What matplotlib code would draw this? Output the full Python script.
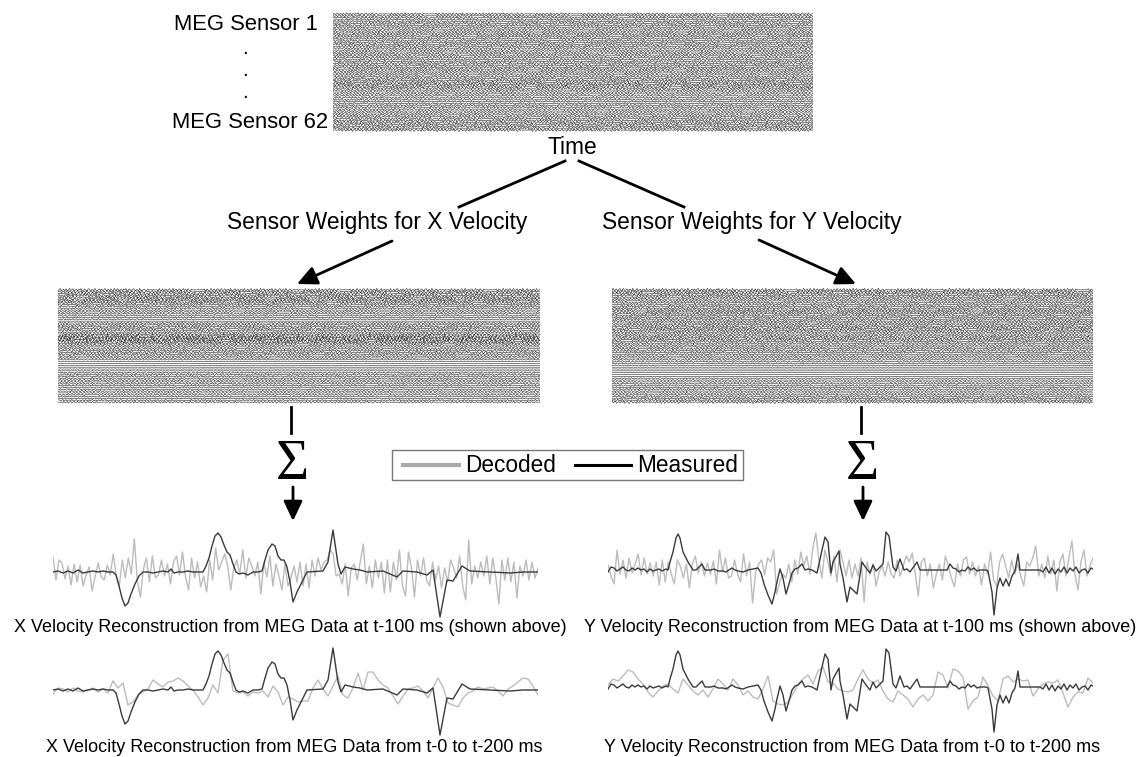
import numpy as np
import matplotlib
matplotlib.use('agg')
import matplotlib.pyplot as plt

plt.rcParams['font.family'] = ['Liberation Sans', 'DejaVu Sans']

W, H = 1145, 757

# measured velocity, (sample, value) pairs
meas_x_t = [0,5,10,15,20,25,30,35,40,45,50,55,60,63,66,69,72,75,78,82,86,90,95,100,105,110,115,118,121,125,130,135,140,145,150,153,156,159,162,165,168,171,174,177,180,183,186,190,195,200,205,209,212,215,219,222,225,228,231,234,237,240,244,250,254,270,275,280,285,288,292,300,307,314,330,344,350,364,374,380,387,394,400,409,417,437,457,470,485]
meas_x_v = [0,1,-1,1,-1,2,-1,0,1,0,1,0,0,-3,-14,-26,-34,-31,-22,-12,-4,0,0,-1,0,1,0,3,-1,0,0,1,0,0,0,6,14,26,36,39,35,27,20,17,8,0,-2,-1,-3,0,0,1,12,22,28,26,16,12,12,5,-10,-30,-20,-8,0,1,10,42,8,-2,5,3,2,0,1,-5,1,0,-3,2,-45,-8,-9,6,1,0,-1,0,0]
meas_y_t = [0,3,6,9,12,15,18,21,24,27,30,33,36,39,42,45,48,51,54,58,60,62,65,68,70,72,75,80,85,88,94,97,103,106,110,115,118,121,124,127,130,135,140,145,150,153,156,160,164,167,169,172,175,178,181,184,187,190,194,197,200,204,209,214,217,220,223,225,231,232,235,239,242,249,254,258,262,265,268,275,278,281,285,288,292,296,299,302,309,312,339,342,345,348,351,354,357,360,363,366,369,372,378,380,384,386,389,392,395,398,401,404,407,410,412,432,435,438,441,444,447,450,453,456,459,462,465,468,471,474,477,480,483,485]
meas_y_v = [-2,3,2,-1,1,3,0,-1,2,0,2,0,1,-2,1,-1,0,1,-1,1,0,8,18,32,36,32,18,8,0,0,6,0,0,1,-1,-1,-2,0,2,0,-1,-2,0,1,2,-3,-14,-25,-34,-22,-12,1,-8,-24,-14,-3,1,2,6,0,1,0,-3,20,33,28,-3,8,19,6,-8,-32,-17,-24,8,2,-3,5,-1,6,38,34,3,-1,11,0,1,-2,8,0,0,6,2,1,-2,0,-1,3,0,2,-1,0,0,-1,-22,-45,-18,-8,-16,-9,-16,-6,-1,16,0,0,-2,3,-3,2,-4,1,-2,3,-3,2,-1,3,-3,0,1,-3,2,1]

# decoded velocity, evenly spaced samples
dec_x_100 = [15,-8,12,9,-7,6,-13,8,-10,7,-14,-3,5,-19,-4,9,-5,-8,7,-3,
             18,-4,-14,12,-6,14,-2,33,-9,-25,3,14,-10,16,-6,-3,12,-4,8,-12,
             10,16,-3,20,-5,-18,14,-6,10,-15,-4,-20,12,-8,24,2,10,18,6,-18,
             4,12,-2,22,-6,14,6,-4,10,-22,9,-5,16,-14,8,-4,-18,8,-14,-6,
             6,-10,10,-14,8,-16,12,-4,14,2,10,12,22,18,-4,-2,-12,8,-24,4,
             8,-8,10,28,-12,6,-16,12,-6,10,-21,12,-20,10,-8,22,-14,-24,20,4,
             -25,12,-4,14,-8,-14,10,-8,6,-16,4,-10,12,4,-6,16,-14,-28,32,-12,
             6,-6,10,-4,16,-12,14,-6,-32,12,-8,14,-10,10,-26,6,-4,12,-8,10,-6,4]
dec_y_100 = [5,-6,-14,20,-4,10,-8,12,-3,6,16,-5,12,-4,7,-6,8,-15,10,-12,
             8,-4,-14,10,4,-8,6,-18,6,14,-3,8,-6,7,-4,9,-14,20,-2,12,
             -8,-6,10,-4,-12,16,-6,8,-33,-2,6,10,-5,12,8,20,-24,-12,-4,-8,
             6,-12,10,-4,18,4,14,-4,22,37,10,-8,20,8,-6,14,-12,20,8,-6,
             10,-8,6,-6,12,-32,8,-4,6,-16,-2,4,-6,8,-4,-8,10,-6,4,14,
             8,17,-4,-26,8,12,-6,6,-18,-4,6,-10,14,4,-8,-17,6,-6,10,13,
             -4,8,-6,4,-15,6,-4,18,-10,-16,8,16,4,-8,10,-4,6,-6,-16,8,
             4,12,24,-6,6,-8,14,-4,10,-21,8,16,-6,12,29,-4,-20,8,20,-6,4,12]
dec_x_200 = [-4,2,1,-2,2,-1,-2,0,2,-2,1,-3,9,2,7,-15,-12,-5,-2,1,
             10,6,3,8,9,12,9,4,0,-7,-15,-8,5,-3,30,36,-1,-3,-2,-6,
             -2,-3,-1,-7,4,-2,-15,-7,-9,-12,-11,-11,2,10,1,-6,4,14,-5,-8,
             2,17,0,18,18,10,5,2,-6,-14,-6,1,2,4,-1,-8,2,12,3,-13,
             -15,-17,-8,-3,-1,3,1,2,3,-1,-6,1,4,8,12,11,4,-5]
dec_y_200 = [2,8,6,11,17,15,8,3,-5,-10,-4,1,3,-2,-6,8,2,-4,-8,-3,
             -10,-2,8,3,-3,8,2,-8,-4,-10,-12,-2,11,-14,-17,-18,-15,-7,3,8,
             12,3,16,20,5,4,-2,-4,-5,-3,8,17,8,4,7,-4,-12,-15,-4,-8,
             -12,-20,-12,-8,-14,-8,15,12,-1,18,16,10,-22,-14,-10,10,1,-9,-14,8,
             11,5,8,6,7,-9,-2,3,5,4,7,-6,-20,-10,-5,-6,9,4]

# sensor traces
sensor_wiggle = [3,-5,7,-2,-8,6,1,-4,9,-6,2,5,-9,4,-1,-7,8,0,-3,6,-5,2,-8,7,3,-6,1,9,-4,-7,5,0,-2,8,-9,3,6,-1,-5,4,
                 2,-3,1,0,-1,2,-2,1,0,-1,7,-8,4,2,-6,9,-3,-5,8,-1,-7,5,3,-9,6,0,-4,7,-2,-6,9,1,-8,4,-3,5,-7,2,8,-5,
                 0,1,-1,1,0,-2,1,0,-1,1,-6,8,-2,-4,7,3,-9,5,-1,-5,9,-3,-7,6,2,-8,4,1,-6,7,-2,-4,8,-9,3,5,-1,-7,6,0,
                 -3,9,-5,-2,7,-8,4]
sensor_shift = [0,41,87,13,66,102,29,118,54,7,93,36,75,21,110,48,3,84,59,125,17,70,33,99,44,11,121,63,26,91,5,78,39,114,52,19,105,68,1,88,31,123,57,9,96,43,72,15,108,35,81,24,117,61,6,90,47,74,12,101,28,83]
gain_top = [1.0,1.1,0.9,0.8,1.0,1.1,0.9,1.0,0.8,0.9,1.0,1.2,0.9,0.8,1.0,0.9,1.1,1.0,0.9,0.8,
            1.0,0.9,1.1,0.9,0.8,1.0,1.1,0.9,1.0,1.2,0.9,1.0,0.8,0.9,1.1,1.0,1.3,1.2,1.4,1.1,
            0.9,0.8,0.9,0.7,0.8,0.9,0.6,0.8,1.0,0.9,0.7,0.9,0.8,1.0,0.9,1.1,1.0,1.2,1.1,1.0,1.3,1.2]
gain_x = [1.3,1.2,1.4,1.1,1.3,1.5,1.4,1.2,1.0,0.9,0.8,0.7,0.9,0.6,0.8,0.5,0.7,0.05,
          1.0,1.1,0.9,1.2,1.0,0.8,1.0,1.8,2.0,1.9,1.7,1.2,0.9,0.8,1.0,0.9,1.1,1.0,0.8,0.9,
          0.2,0.15,0.2,0.1,0.15,0.2,0.3,0.7,0.9,0.8,0.6,0.9,0.7,0.8,0.6,0.7,0.5,0.8,0.6,0.7,0.5,0.6,0.8,0.9]
gain_y = [1.4,1.3,1.2,1.0,1.2,0.9,1.0,0.8,1.1,0.9,1.0,1.2,1.3,1.1,0.9,1.0,1.1,0.9,1.2,1.0,
          1.1,1.3,1.2,1.0,0.9,1.0,1.4,1.2,1.0,0.9,0.8,1.0,0.9,1.1,0.8,0.7,0.9,0.8,0.6,0.7,
          0.5,0.4,0.3,0.15,0.1,0.05,0.3,0.1,0.5,0.6,0.7,0.6,0.8,0.7,0.9,0.6,0.8,0.7,1.0,0.9,1.1,1.2]


def px_axes(fig, left, top, w, h):
    ax = fig.add_axes([left / W, 1 - (top + h) / H, w / W, h / H])
    ax.axis('off')
    return ax


def plot_sensors(fig, left, top, w, h, gains, extra):
    ax = px_axes(fig, left, top, w, h)
    base = np.resize(np.array(sensor_wiggle) / 10, 420)
    x = np.arange(420)
    for i, g in enumerate(gains):
        y = np.roll(base, sensor_shift[i] + extra) * g * 0.7
        ax.plot(x, i + 1 + y, color='#1a1a1a', lw=0.38)
    ax.set_xlim(0, 419)
    ax.set_ylim(len(gains) + 1, 0)


def plot_recon(fig, left, base, dec, mt, mv):
    ax = px_axes(fig, left, base - 50, 485, 100)
    ax.plot(np.linspace(0, 485, len(dec)), dec, color='#bcbcbc', lw=1.0)
    ax.plot(mt, mv, color='#3a3a3a', lw=1.0)
    ax.set_xlim(0, 485)
    ax.set_ylim(-50, 50)


fig = plt.figure(figsize=(W / 100, H / 100), dpi=100)

plot_sensors(fig, 333, 12, 480, 120, gain_top, 0)
plot_sensors(fig, 58, 288, 482, 116, gain_x, 37)
plot_sensors(fig, 612, 288, 481, 116, gain_y, 71)

plot_recon(fig, 53, 572, dec_x_100, meas_x_t, meas_x_v)
plot_recon(fig, 53, 690, dec_x_200, meas_x_t, meas_x_v)
plot_recon(fig, 608, 570, dec_y_100, meas_y_t, meas_y_v)
plot_recon(fig, 608, 687, dec_y_200, meas_y_t, meas_y_v)

# overlay in image pixels for labels and arrows
ov = fig.add_axes([0, 0, 1, 1])
ov.set_xlim(0, W)
ov.set_ylim(H, 0)
ov.axis('off')
ov.patch.set_alpha(0)

ov.text(318, 25, 'MEG Sensor 1', ha='right', va='center', fontsize=15.8)
for yy in [48, 70, 92]:
    ov.text(245, yy, '.', ha='center', va='center', fontsize=15)
ov.text(328, 123, 'MEG Sensor 62', ha='right', va='center', fontsize=15.8)
ov.text(572, 147, 'Time', ha='center', va='center', fontsize=16.4)
ov.text(377, 223, 'Sensor Weights for X Velocity', ha='center', va='center', fontsize=16.4)
ov.text(752, 223, 'Sensor Weights for Y Velocity', ha='center', va='center', fontsize=16.4)

ov.plot([565, 459], [161, 207], color='black', lw=2)
ov.plot([579, 684], [161, 207], color='black', lw=2)
for a, b in [((392, 241), (297, 284)), ((759, 240), (856, 284)), ((293, 487), (293, 521)), ((863, 487), (863, 521))]:
    ov.annotate('', xy=b, xytext=a, arrowprops=dict(arrowstyle='-|>,head_width=0.38,head_length=0.8', color='black', lw=2, shrinkA=0, shrinkB=0, mutation_scale=15))
ov.plot([291, 291], [407, 433], color='black', lw=2)
ov.plot([861, 861], [407, 433], color='black', lw=2)
ov.text(292, 465, '\u03a3', ha='center', va='center', fontsize=41, family='Liberation Serif')
ov.text(862, 465, '\u03a3', ha='center', va='center', fontsize=41, family='Liberation Serif')

# legend box
ov.add_patch(plt.Rectangle((392, 450), 351, 30, fill=False, ec='#777777', lw=1))
ov.plot([403, 459], [465, 465], color='#aaaaaa', lw=3)
ov.plot([575, 631], [465, 465], color='black', lw=2.2)
ov.text(465, 466, 'Decoded', ha='left', va='center', fontsize=16.3)
ov.text(637, 466, 'Measured', ha='left', va='center', fontsize=16.3)

ov.text(290, 628, 'X Velocity Reconstruction from MEG Data at t-100 ms (shown above)', ha='center', va='center', fontsize=13)
ov.text(860, 628, 'Y Velocity Reconstruction from MEG Data at t-100 ms (shown above)', ha='center', va='center', fontsize=13)
ov.text(294, 748, 'X Velocity Reconstruction from MEG Data from t-0 to t-200 ms', ha='center', va='center', fontsize=13)
ov.text(852, 748, 'Y Velocity Reconstruction from MEG Data from t-0 to t-200 ms', ha='center', va='center', fontsize=13)

plt.savefig('out.png', dpi=100)
